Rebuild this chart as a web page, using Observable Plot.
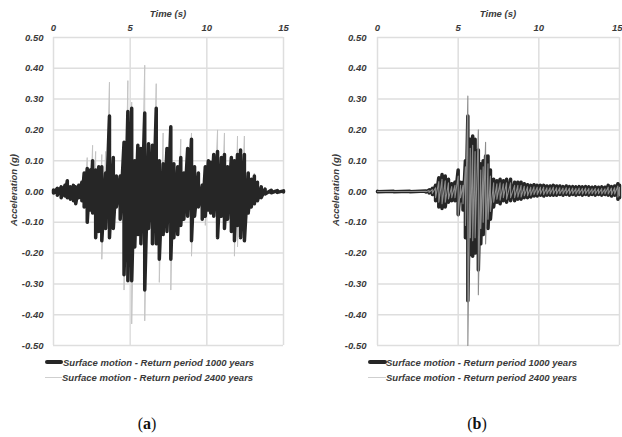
<!DOCTYPE html>
<html>
<head>
<meta charset="utf-8">
<script src="https://cdn.jsdelivr.net/npm/d3@7"></script>
<script src="https://cdn.jsdelivr.net/npm/@observablehq/plot@0.6"></script>
<style>
  html, body { margin: 0; padding: 0; background: #fff; }
  #root { position: relative; width: 622px; height: 437px; overflow: hidden; background: #fff; }
  .panel { position: absolute; top: 0; }
  .t { position: absolute; font-family: "Liberation Sans", Arial, sans-serif; font-style: italic; font-weight: bold; color: #3a3a3a; white-space: nowrap; }
  .xt { font-size: 9.5px; transform: translate(-50%, -50%); }
  .yt { font-size: 9.5px; transform: translate(-50%, -50%) rotate(-90deg); }
  .leg { font-size: 9.5px; transform: translateY(-50%); }
  .sw { position: absolute; }
  .cap { position: absolute; font-family: "Liberation Serif", "DejaVu Serif", serif; font-size: 16px; color: #111; transform: translate(-50%, -50%); }
</style>
</head>
<body>
<div id="root"></div>
<script>
// ---------- tick values ----------
const xTicks = [0, 5, 10, 15];
const yTicks = [-0.5, -0.4, -0.3, -0.2, -0.1, 0, 0.1, 0.2, 0.3, 0.4, 0.5];

// ---------- panel (a): peak times (s) and peak accelerations (g) ----------
const timeA = [0, 0.25, 0.5, 0.75, 0.9, 1.1, 1.3, 1.45, 1.65, 1.85,
  2.0, 2.2, 2.4, 2.55, 2.75, 2.95, 3.15, 3.4, 3.65, 3.9,
  4.1, 4.35, 4.6, 4.85, 5.1, 5.3, 5.5, 5.7, 5.95, 6.2,
  6.45, 6.7, 6.9, 7.15, 7.4, 7.65, 7.85, 8.1, 8.3, 8.5,
  8.75, 9.0, 9.2, 9.45, 9.7, 9.9, 10.1, 10.25, 10.45, 10.7,
  10.95, 11.15, 11.35, 11.6, 11.8, 12.0, 12.2, 12.45, 12.7, 12.9,
  13.1, 13.3, 13.55, 13.8, 14.2, 14.6, 15.0];
// Return period 1000 years
const topA1000 = [0.005, 0.01, 0.015, 0.02, 0.035, 0.015, 0.02, 0.015, 0.02, 0.03,
  0.06, 0.075, 0.07, 0.10, 0.07, 0.08, 0.08, 0.06, 0.245, 0.11,
  0.05, 0.05, 0.16, 0.26, 0.27, 0.10, 0.15, 0.14, 0.255, 0.155,
  0.15, 0.27, 0.10, 0.09, 0.14, 0.21, 0.09, 0.08, 0.11, 0.06,
  0.14, 0.17, 0.08, 0.06, 0.02, 0.08, 0.10, 0.095, 0.12, 0.13,
  0.11, 0.12, 0.08, 0.11, 0.10, 0.12, 0.135, 0.12, 0.06, 0.04,
  0.05, 0.03, 0.015, 0.008, 0.004, 0.003, 0.002];
const botA1000 = [-0.005, -0.012, -0.02, -0.015, -0.02, -0.025, -0.03, -0.04, -0.02, -0.03,
  -0.05, -0.10, -0.06, -0.07, -0.15, -0.13, -0.16, -0.12, -0.15, -0.12,
  -0.05, -0.09, -0.27, -0.29, -0.29, -0.18, -0.14, -0.17, -0.32, -0.12,
  -0.17, -0.17, -0.22, -0.14, -0.13, -0.22, -0.15, -0.14, -0.11, -0.09,
  -0.08, -0.16, -0.08, -0.05, -0.09, -0.08, -0.06, -0.07, -0.08, -0.15,
  -0.08, -0.12, -0.09, -0.13, -0.16, -0.11, -0.15, -0.16, -0.07, -0.05,
  -0.04, -0.03, -0.02, -0.008, -0.004, -0.003, -0.002];
// Return period 2400 years
const topA2400 = [0.005, 0.01, 0.015, 0.02, 0.035, 0.015, 0.02, 0.015, 0.02, 0.03,
  0.06, 0.11, 0.07, 0.15, 0.13, 0.08, 0.12, 0.13, 0.355, 0.11,
  0.05, 0.05, 0.16, 0.36, 0.29, 0.10, 0.15, 0.14, 0.41, 0.155,
  0.15, 0.35, 0.10, 0.19, 0.14, 0.21, 0.09, 0.08, 0.17, 0.06,
  0.14, 0.19, 0.08, 0.06, 0.02, 0.08, 0.10, 0.095, 0.12, 0.20,
  0.11, 0.19, 0.08, 0.11, 0.10, 0.18, 0.135, 0.18, 0.06, 0.04,
  0.06, 0.03, 0.015, 0.008, 0.004, 0.003, 0.002];
const botA2400 = [-0.005, -0.012, -0.02, -0.015, -0.02, -0.025, -0.03, -0.04, -0.02, -0.03,
  -0.05, -0.10, -0.06, -0.07, -0.15, -0.13, -0.22, -0.12, -0.15, -0.12,
  -0.05, -0.09, -0.32, -0.29, -0.43, -0.18, -0.14, -0.17, -0.42, -0.12,
  -0.17, -0.17, -0.295, -0.14, -0.13, -0.32, -0.15, -0.14, -0.11, -0.09,
  -0.08, -0.21, -0.08, -0.05, -0.09, -0.11, -0.06, -0.07, -0.08, -0.15,
  -0.08, -0.12, -0.09, -0.13, -0.21, -0.18, -0.15, -0.16, -0.07, -0.05,
  -0.04, -0.03, -0.02, -0.008, -0.004, -0.003, -0.002];

// ---------- panel (b) ----------
const timeB = [0, 1, 2, 3, 3.2, 3.4, 3.6, 3.8, 4.0, 4.2,
  4.4, 4.6, 4.8, 5.0, 5.15, 5.3, 5.45, 5.6, 5.75, 5.9,
  6.05, 6.25, 6.4, 6.55, 6.7, 6.85, 7.0, 7.2, 7.4, 7.6,
  7.8, 8.0, 8.25, 8.5, 8.7, 8.9, 9.1, 9.3, 9.5, 9.7,
  9.9, 10.1, 10.3, 10.5, 10.7, 10.9, 11.1, 11.3, 11.5, 11.7,
  11.9, 12.1, 12.3, 12.5, 12.7, 12.9, 13.1, 13.3, 13.5, 13.7,
  13.9, 14.1, 14.3, 14.5, 14.7, 14.9, 15.0];
const topB1000 = [0.001, 0.001, 0.001, 0.002, 0.005, 0.01, 0.02, 0.045, 0.055, 0.05,
  0.04, 0.025, 0.03, 0.07, 0.03, 0.03, 0.10, 0.245, 0.17, 0.18,
  0.17, 0.135, 0.09, 0.10, 0.115, 0.115, 0.07, 0.04, 0.035, 0.04,
  0.035, 0.04, 0.04, 0.03, 0.03, 0.03, 0.025, 0.022, 0.02, 0.022,
  0.02, 0.02, 0.02, 0.018, 0.018, 0.02, 0.018, 0.018, 0.016, 0.018,
  0.016, 0.016, 0.015, 0.016, 0.015, 0.016, 0.015, 0.014, 0.015, 0.014,
  0.015, 0.014, 0.02, 0.016, 0.018, 0.025, 0.02];
const botB1000 = [-0.001, -0.001, -0.001, -0.002, -0.005, -0.01, -0.03, -0.05, -0.055, -0.05,
  -0.035, -0.03, -0.03, -0.075, -0.03, -0.06, -0.15, -0.355, -0.205, -0.21,
  -0.2, -0.255, -0.17, -0.14, -0.115, -0.12, -0.09, -0.05, -0.035, -0.04,
  -0.03, -0.035, -0.03, -0.03, -0.025, -0.025, -0.02, -0.02, -0.018, -0.015,
  -0.015, -0.012, -0.015, -0.012, -0.012, -0.012, -0.012, -0.01, -0.012, -0.01,
  -0.012, -0.01, -0.012, -0.01, -0.012, -0.01, -0.012, -0.01, -0.012, -0.01,
  -0.012, -0.01, -0.012, -0.015, -0.012, -0.025, -0.02];
const topB2400 = [0, 0, 0, 0.001, 0.003, 0.006, 0.012, 0.032, 0.04, 0.035,
  0.028, 0.016, 0.02, 0.05, 0.02, 0.02, 0.08, 0.31, 0.14, 0.15,
  0.13, 0.20, 0.07, 0.08, 0.16, 0.09, 0.05, 0.028, 0.025, 0.028,
  0.025, 0.028, 0.028, 0.02, 0.02, 0.02, 0.017, 0.015, 0.014, 0.015,
  0.014, 0.014, 0.014, 0.012, 0.012, 0.014, 0.012, 0.012, 0.011, 0.012,
  0.011, 0.011, 0.01, 0.011, 0.01, 0.011, 0.01, 0.009, 0.01, 0.009,
  0.01, 0.009, 0.014, 0.011, 0.012, 0.018, 0.014];
const botB2400 = [0, 0, 0, -0.001, -0.003, -0.006, -0.02, -0.035, -0.04, -0.035,
  -0.024, -0.02, -0.02, -0.08, -0.02, -0.04, -0.11, -0.50, -0.15, -0.16,
  -0.15, -0.335, -0.12, -0.10, -0.17, -0.09, -0.065, -0.035, -0.025, -0.028,
  -0.02, -0.025, -0.02, -0.02, -0.018, -0.018, -0.014, -0.014, -0.012, -0.01,
  -0.01, -0.008, -0.01, -0.008, -0.008, -0.008, -0.008, -0.007, -0.008, -0.007,
  -0.008, -0.007, -0.008, -0.007, -0.008, -0.007, -0.008, -0.007, -0.008, -0.007,
  -0.008, -0.007, -0.008, -0.01, -0.008, -0.018, -0.014];

// ---------- text ----------
const xTitle = "Time (s)";
const yTitle = "Acceleration (g)";
const legend1000 = "Surface motion - Return period 1000 years";
const legend2400 = "Surface motion - Return period 2400 years";

// build peak sequences (positive peak then negative peak at each listed time)
function peaks(times, tops, bots) {
  const out = [];
  times.forEach((t, i) => { out.push({t, a: tops[i]}); out.push({t, a: bots[i]}); });
  return out;
}

const BLACK = "#262626";
const GRID = "#dedede";

function panel(cfg) {
  return Plot.plot({
    width: 311, height: 352,
    marginLeft: cfg.ml, marginRight: cfg.mr, marginTop: 37, marginBottom: 7,
    x: {domain: [0, 15]},
    y: {domain: [-0.5, 0.5]},
    style: {fontFamily: "'Liberation Sans', Arial, sans-serif", fontSize: "9.5px", fontStyle: "italic", fontWeight: "bold", color: "#3a3a3a", background: "transparent", overflow: "visible"},
    marks: [
      Plot.gridY(yTicks, {stroke: GRID, strokeOpacity: 1, strokeWidth: 1.5}),
      Plot.gridX(xTicks, {stroke: GRID, strokeOpacity: 1, strokeWidth: 1.5}),
      ...cfg.xaxes,
      Plot.axisY(yTicks, {anchor: "left", tickSize: 0, tickPadding: cfg.pad, tickFormat: d => d.toFixed(2), label: null}),
      ...cfg.lines
    ]
  });
}

const root = document.getElementById("root");
const xAxisOpts = {anchor: "top", tickSize: 0, tickPadding: 7, tickFormat: d => String(d), label: null};

const chartA = panel({
  ml: 53, mr: 28, pad: 10,
  xaxes: [Plot.axisX(xTicks, xAxisOpts)],
  lines: [
    Plot.line(peaks(timeA, topA2400, botA2400), {x: "t", y: "a", stroke: "#c4c4c4", strokeWidth: 1}),
    Plot.line(peaks(timeA, topA1000, botA1000), {x: "t", y: "a", stroke: BLACK, strokeWidth: 3.5})
  ]
});
const chartB = panel({
  ml: 66, mr: 3, pad: 11,
  xaxes: [
    Plot.axisX(xTicks.slice(0, 3), xAxisOpts),
    Plot.axisX(xTicks.slice(3), {...xAxisOpts, textAnchor: "end", dx: 3})
  ],
  lines: [
    Plot.line(peaks(timeB, topB1000, botB1000), {x: "t", y: "a", stroke: BLACK, strokeWidth: 3.5}),
    Plot.line(peaks(timeB, topB2400, botB2400), {x: "t", y: "a", stroke: "#8c8c8c", strokeWidth: 1.1})
  ]
});

function place(el, left) {
  const d = document.createElement("div");
  d.className = "panel";
  d.style.left = left + "px";
  d.appendChild(el);
  root.appendChild(d);
}
place(chartA, 0);
place(chartB, 311);

function text(cls, str, x, y) {
  const d = document.createElement("div");
  d.className = "t " + cls;
  d.style.left = x + "px";
  d.style.top = y + "px";
  d.textContent = str;
  root.appendChild(d);
  return d;
}
function swatch(x1, x2, y, h, color, radius) {
  const d = document.createElement("div");
  d.className = "sw";
  d.style.left = x1 + "px";
  d.style.width = (x2 - x1) + "px";
  d.style.top = (y - h / 2) + "px";
  d.style.height = h + "px";
  d.style.background = color;
  d.style.borderRadius = radius + "px";
  root.appendChild(d);
}

// axis titles
text("xt", xTitle, 168, 13);
text("xt", xTitle, 498, 13);
text("yt", yTitle, 13, 190);
text("yt", yTitle, 335, 190);

// legends
swatch(45, 63, 362, 4, BLACK, 2);
text("leg", legend1000, 63, 362);
swatch(45, 62, 377, 1, "#cfcfcf", 0);
text("leg", legend2400, 62, 377);

swatch(368, 387, 362, 4, BLACK, 2);
text("leg", legend1000, 386, 362);
swatch(368, 386, 377, 1, "#cfcfcf", 0);
text("leg", legend2400, 386, 377);

// captions
function cap(letter, x, y) {
  const d = document.createElement("div");
  d.className = "cap";
  d.style.left = x + "px";
  d.style.top = y + "px";
  d.innerHTML = "(<b>" + letter + "</b>)";
  root.appendChild(d);
}
cap("a", 147, 424);
cap("b", 477, 424);
</script>
</body>
</html>
